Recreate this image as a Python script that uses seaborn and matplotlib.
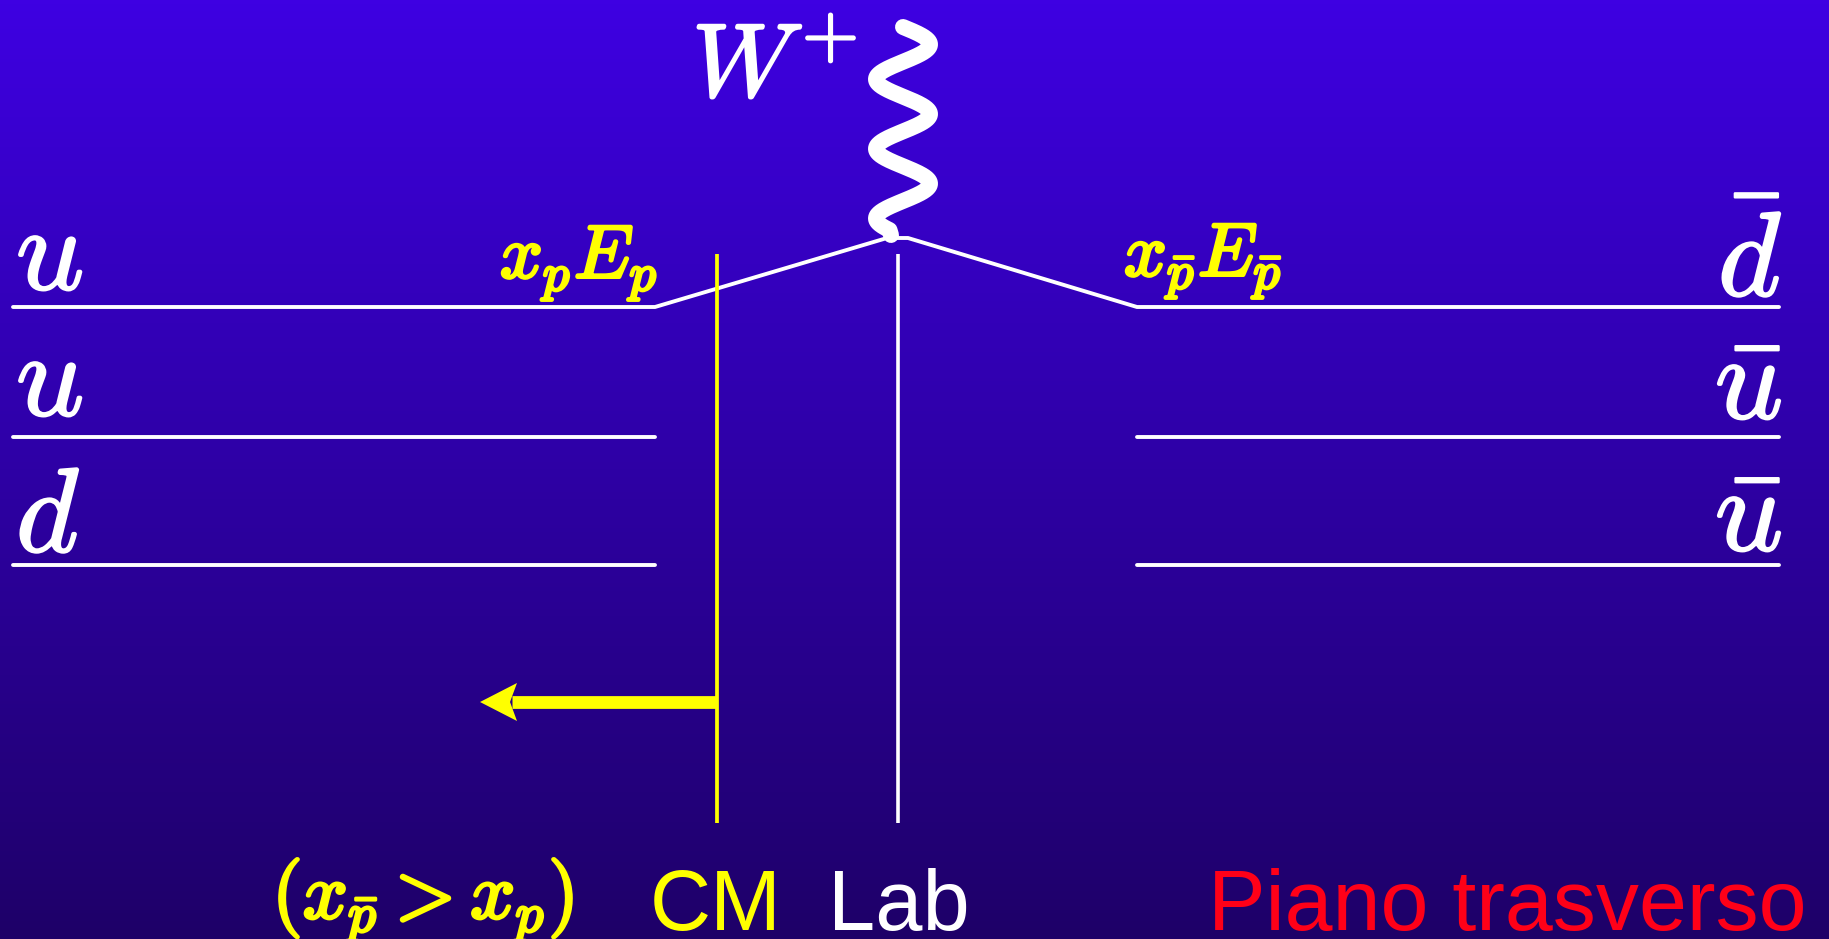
import numpy as np
import pandas as pd
import matplotlib
matplotlib.use("Agg")
import matplotlib.pyplot as plt
import matplotlib.patheffects as pe
import seaborn as sns

# ---------------- data ----------------
W, H = 1829, 939
proton_labels = [r"$u$", r"$u$", r"$d$"]
antiproton_labels = [r"$\bar{d}$", r"$\bar{u}$", r"$\bar{u}$"]
quark_y = [307, 437, 565]
left_label_base = [290, 416, 552]
right_label_base = [296, 419, 551]
left_x = [13, 655]
right_x = [1137, 1779]
vertex_x = [887, 908]
vertex_y = 238
cm_x = 717
lab_x = 898
frame_y = [254, 823]
arrow_y = 702
arrow_tip_x = 480
wave_top, wave_bottom = 27, 230
wave_center, wave_amp, wave_half = 903, 27, 34.8

bg_top = np.array([62, 0, 226]) / 255
bg_bot = np.array([30, 0, 104]) / 255
YEL = "#ffff00"

# ---------------- figure ----------------
sns.set_theme(style="white")
plt.rcParams["mathtext.fontset"] = "cm"
plt.rcParams["font.family"] = ["Liberation Sans", "DejaVu Sans"]

fig = plt.figure(figsize=(W / 100, H / 100), dpi=100)
ax = fig.add_axes([0, 0, 1, 1])
ax.set_xlim(0, W)
ax.set_ylim(H, 0)
ax.axis("off")

t = np.linspace(0, 1, 256)[:, None, None]
grad = bg_top[None, None, :] * (1 - t) + bg_bot[None, None, :] * t
ax.imshow(grad, extent=(0, W, H, 0), aspect="auto", zorder=0)
ax.set_xlim(0, W)
ax.set_ylim(H, 0)

# quark lines (seaborn)
rows = []
for i, y in enumerate(quark_y):
    if i == 0:
        xs = [left_x[0], left_x[1], vertex_x[0], vertex_x[1], right_x[0], right_x[1]]
        ys = [y, y, vertex_y, vertex_y, y, y]
    else:
        xs = [left_x[0], left_x[1]]
        ys = [y, y]
        rows += [dict(seg=f"L{i}", order=k, x=a, y=b) for k, (a, b) in enumerate(zip(xs, ys))]
        xs = [right_x[0], right_x[1]]
    rows += [dict(seg=f"S{i}", order=k, x=a, y=b) for k, (a, b) in enumerate(zip(xs, ys))]
df = pd.DataFrame(rows)
sns.lineplot(data=df, x="x", y="y", units="seg", estimator=None, sort=False,
             color="white", lw=2.8, ax=ax, zorder=3, legend=False)
ax.set_xlim(0, W)
ax.set_ylim(H, 0)

# vertical frame lines
ax.plot([cm_x, cm_x], frame_y, color=YEL, lw=2.7, zorder=3, solid_capstyle="butt")
ax.plot([lab_x, lab_x], frame_y, color="white", lw=2.6, zorder=3, solid_capstyle="butt")

# arrow (CM motion)
ax.plot([cm_x, arrow_tip_x + 32], [arrow_y, arrow_y], color=YEL, lw=9.2,
        solid_capstyle="butt", zorder=4)
ax.fill([arrow_tip_x, arrow_tip_x + 37, arrow_tip_x + 30, arrow_tip_x + 37],
        [arrow_y, arrow_y - 19, arrow_y, arrow_y + 19], color=YEL, zorder=4, lw=0)

# W boson wavy line
wy = np.linspace(wave_top, wave_bottom, 400)
wx = wave_center + wave_amp * np.sin(np.pi * (wy - wave_top) / wave_half)
wx = np.append(wx, vertex_x[0] + 4)
wy = np.append(wy, vertex_y - 3)
ax.plot(wx, wy, color="white", lw=11.5, solid_capstyle="round",
        solid_joinstyle="round", zorder=5)

# labels
wbold = [pe.withStroke(linewidth=1.6, foreground="white")]
for lab, yb in zip(proton_labels, left_label_base):
    ax.text(16, yb, lab, color="white", fontsize=86, ha="left", va="baseline",
            path_effects=wbold, zorder=6)
for lab, yb in zip(antiproton_labels, right_label_base):
    ax.text(1782, yb, lab, color="white", fontsize=86, ha="right", va="baseline",
            path_effects=wbold, zorder=6)

ax.text(692, 97, r"$W^{+}$", color="white", fontsize=75, ha="left", va="baseline",
        path_effects=wbold, zorder=6)

bold = [pe.withStroke(linewidth=2.2, foreground=YEL)]
ax.text(500, 278, r"$x_pE_p$", color=YEL, fontsize=54, ha="left", va="baseline",
        path_effects=bold, zorder=6)
ax.text(1124, 276, r"$x_{\bar{p}}E_{\bar{p}}$", color=YEL, fontsize=54, ha="left",
        va="baseline", path_effects=bold, zorder=6)
ax.text(272, 918, r"$(x_{\bar{p}} > x_p)$", color=YEL, fontsize=57, ha="left",
        va="baseline", path_effects=bold, zorder=6)

ax.text(650, 930, "CM", color=YEL, fontsize=61, ha="left", va="baseline", zorder=6)
ax.text(828, 930, "Lab", color="white", fontsize=61, ha="left", va="baseline", zorder=6)
ax.text(1208, 930, "Piano trasverso", color="#ff0018", fontsize=62, ha="left",
        va="baseline", zorder=6)

fig.savefig("out.png", dpi=100)
